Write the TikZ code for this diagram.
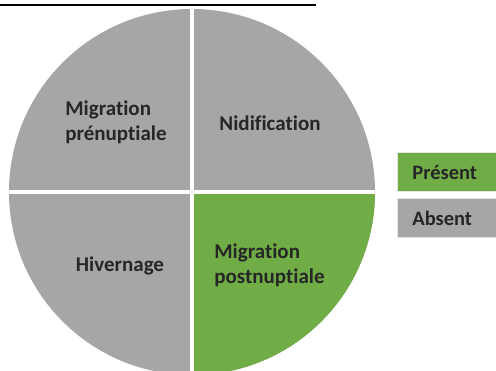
\documentclass[tikz,border=0pt]{standalone}
\usepackage{fontspec}
\setmainfont[Ligatures=NoCommon]{Carlito}
\definecolor{grisphase}{HTML}{A7A6A6}
\definecolor{vertphase}{HTML}{70AD47}
\definecolor{textephase}{HTML}{262626}
\tikzset{
  phase/.style={font=\fontsize{21}{25}\selectfont\bfseries,text=textephase,align=left,inner sep=0pt},
  legende/.style={draw=white!90!black,line width=1pt,minimum width=104pt,minimum height=39pt,
    inner sep=0pt,anchor=north west},
  legtexte/.style={font=\fontsize{20.5}{24}\selectfont\bfseries,text=textephase,anchor=west,inner sep=0pt}
}
\begin{document}
\begin{tikzpicture}[x=1pt,y=-1pt,line width=.7pt]
\path[use as bounding box] (0,0) rectangle (496,370);
\coordinate (O) at (192,192);
\fill[grisphase] (O) circle[radius=183];
\fill[vertphase] (O) -- (375,192) arc[start angle=0,end angle=90,radius=183] -- cycle;
\draw[white,line width=3.5pt] (192,8)--(192,376);
\draw[white,line width=3.5pt] (8,192)--(376,192);
\draw[line width=1.3pt] (0,5)--(316,5);
\node[phase,anchor=west] (prenup) at (65,122) {Migration\\prénuptiale};
\node[phase] (nidif) at (270,123) {Nidification};
\node[phase] (hiver) at (120,266) {Hivernage};
\node[phase,anchor=west] (postnup) at (214,265) {Migration\\postnuptiale};
\node[legende,fill=vertphase] (present) at (397,152) {};
\node[legende,fill=grisphase] (absent) at (397,198) {};
\node[legtexte] at ([xshift=15pt]present.west) {Présent};
\node[legtexte] at ([xshift=15pt]absent.west) {Absent};
\end{tikzpicture}
\end{document}
